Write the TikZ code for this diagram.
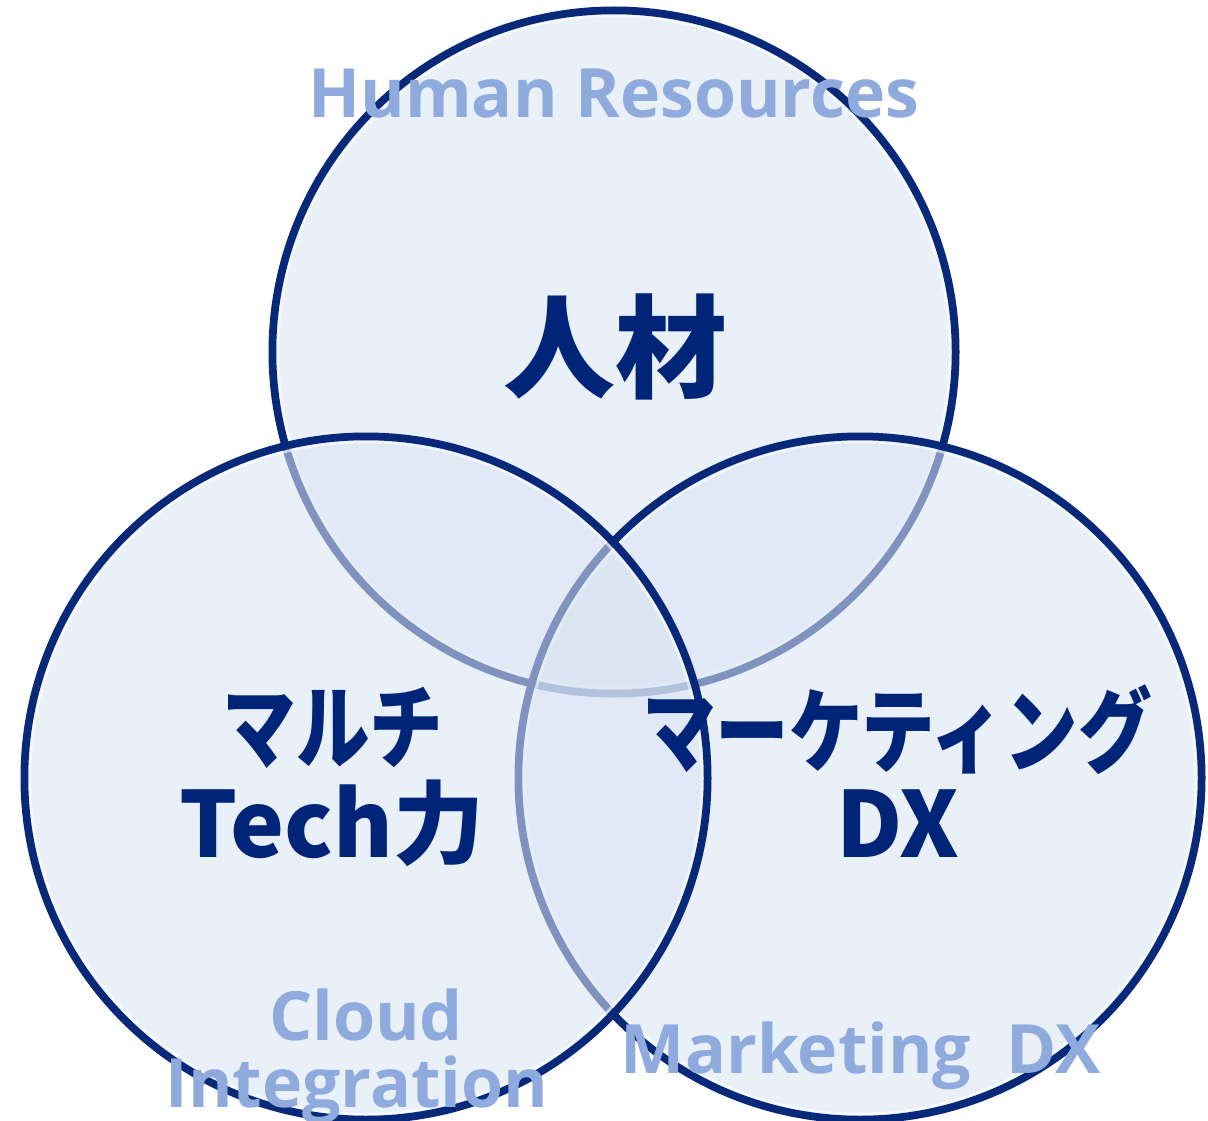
\documentclass[tikz,border=0pt]{standalone}
\usepackage{fontspec}
\newfontfamily\lat{Open Sans}
\newfontfamily\jp{Noto Sans CJK JP}
\newfontfamily\jpk{Noto Sans CJK JP}[FakeStretch=0.80]
\definecolor{ringc}{RGB}{8,40,122}
\definecolor{fillc}{RGB}{218,229,243}
\definecolor{darktext}{RGB}{0,36,120}
\definecolor{lighttext}{RGB}{143,170,220}
\tikzset{
  circ/.style={circle, minimum size=686pt, inner sep=0pt, outer sep=0pt,
    fill=fillc, fill opacity=0.57, draw=ringc, draw opacity=1, line width=5pt},
  glow/.style={draw=white, line width=2.5pt, opacity=0.6},
  bigjp/.style={text=darktext, inner sep=0pt, font=\jp\bfseries\fontsize{112}{120}\selectfont},
  katajp/.style={text=darktext, inner sep=0pt, font=\jpk\bfseries\fontsize{92}{100}\selectfont},
  techjp/.style={text=darktext, inner sep=0pt, font=\jp\bfseries\fontsize{91}{100}\selectfont},
  label/.style={text=lighttext, inner sep=0pt, font=\lat\bfseries\fontsize{68}{70}\selectfont}
}
\begin{document}
\begin{tikzpicture}[x=1pt,y=-1pt]
\useasboundingbox (0,0) rectangle (1208,1121);
\fill[white] (0,0) rectangle (1208,1121);
% top circle
\node[circ] (hr) at (614,352) {};
\draw[glow] (hr.center) circle[radius=336pt];
\draw[ringc, line width=5.5pt] (hr.center) circle[radius=340.5pt];
% right circle
\node[circ] (mk) at (860,778) {};
\draw[glow] (mk.center) circle[radius=336pt];
\draw[ringc, line width=5.5pt] (mk.center) circle[radius=340.5pt];
% left circle
\node[circ] (tc) at (366,778) {};
\draw[glow] (tc.center) circle[radius=336pt];
\draw[ringc, line width=5.5pt] (tc.center) circle[radius=340.5pt];
% texts
\node[label, anchor=base] (hrl) at (614,118) {Human Resources};
\node[bigjp] (hrj) at (615,347) {人材};
\node[katajp] (tc1) at (333,728) {マルチ};
\node[techjp, anchor=base] (tc2) at (332,857) {Tech力};
\node[katajp] (mk1) at (897,730) {マーケティング};
\node[techjp, anchor=base] (mk2) at (898,857) {DX};
\node[label, anchor=base] (cl1) at (366,1040) {Cloud};
\node[label, anchor=base] (cl2) at (357,1107) {Integration};
\node[label, anchor=base] (mkl) at (861,1073) {Marketing\ \ DX};
\end{tikzpicture}
\end{document}
